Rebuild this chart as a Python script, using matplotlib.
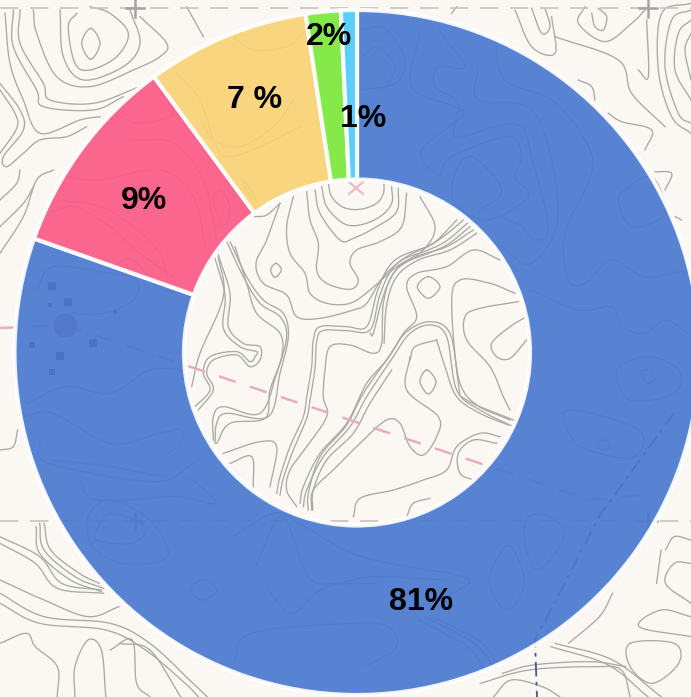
#!/usr/bin/env python3
import numpy as np
import matplotlib
matplotlib.use("Agg")
import matplotlib.pyplot as plt

W, H = 691, 697

shares = [80.4, 9.5, 7.7, 1.65, 0.75]
labels = ["81%", "9%", "7 %", "2%", "1%"]
colors = ["#4A78D0", "#FC5A87", "#F8D274", "#7BE93A", "#4DCBFC"]
label_pos = [(421, 602), (144, 201), (255, 100), (329, 37), (363, 119)]

hole = [
    [(445,40),(455,80),(490,112),(540,118),(590,100),(610,70),(612,40)],
    [(425,50),(440,110),(490,160),(540,165),(600,140),(635,100),(635,50)],
    [(405,60),(420,130),(480,210),(520,205),(590,170),(650,125),(655,55)],
    [(380,65),(390,150),(415,220),(410,300),(440,340),(510,358),(535,330),(510,280),(530,240),(600,215),(665,170),(680,70)],
    [(340,80),(320,170),(330,250),(375,310),(390,370),(440,400),(510,400),(570,360),(650,290),(730,240),(765,170),(720,80)],
    [(300,100),(260,210),(228,280),(250,340),(320,375),(350,440),(420,445),(520,420),(560,400),(610,320),(680,260),(760,220),(830,150)],
    [(850,150),(790,200),(740,230),(660,260),(620,300),(590,370),(560,470),(500,470),(420,470),(400,510),(395,590),(380,680),(370,740),(330,830),(300,920),(290,970)],
    [(862,160),(800,212),(745,240),(665,270),(628,310),(598,380),(570,480),(500,482),(428,482),(410,515),(405,595),(390,690),(380,745),(340,840),(310,925),(300,975)],
    [(870,170),(805,222),(750,248),(670,280),(635,320),(606,390),(580,490),(570,490)],
    [(880,180),(800,230),(710,260),(640,310),(610,400),(605,520),(580,550),(510,525),(450,530),(435,600),(430,680),(440,740),(380,830),(330,900),(320,960),(350,1010)],
    [(890,190),(810,240),(715,270),(650,320),(620,405),(612,520)],
    [(960,270),(880,240),(800,290),(710,310),(680,350),(710,440),(670,490),(620,570),(560,640),(500,760),(420,850),(370,950),(360,1000)],
    [(1000,770),(900,720),(830,660),(800,500),(750,465),(690,490),(640,560),(560,680),(510,770),(430,860),(380,960),(370,1010)],
    [(990,750),(890,705),(840,640),(810,490),(750,455),(680,485),(630,555),(550,670),(500,765),(420,860),(385,970),(385,1020)],
    [(635,600),(570,700),(520,790),(440,870),(400,960),(398,1020)],
    [(690,560),(680,660),(775,740),(770,800),(730,855),(690,830),(660,760),(620,750),(550,810),(470,890),(400,960),(395,1020)],
    [(770,510),(705,530),(690,570)],
    [(770,510),(795,590),(830,680),(900,730),(985,765)],
    [(1005,370),(930,340),(840,330),(815,400),(835,640),(860,690),(1000,750)],
    [(1015,395),(900,415),(855,440),(860,510),(930,590),(970,680),(990,720)],
    [(1040,440),(990,470),(935,520),(950,560),(990,565),(1040,510)],
    [(745,320),(780,350),(745,385),(712,350),(745,320)],
    [(740,600),(768,635),(745,672),(720,635),(740,600)],
    [(288,280),(304,300),(285,322),(272,300),(288,280)],
    [(140,215),(190,320),(240,400),(300,440),(320,500),(290,610),(240,730),(130,710),(100,740),(100,810)],
    [(150,215),(200,320),(250,390),(310,430),(325,500),(300,610),(265,740),(140,730),(110,760),(105,820)],
    [(165,230),(200,340),(230,430),(300,490),(305,560),(270,660),(255,745),(150,760),(110,820)],
    [(115,255),(150,370),(145,470),(190,520),(240,530),(240,570),(210,590),(170,555),(100,570),(80,610),(100,660),(55,720)],
    [(105,265),(135,375),(130,475),(180,530),(230,545),(225,560),(210,575),(170,545),(90,560),(70,610),(90,660),(45,710)],
    [(115,260),(130,380),(60,550),(35,650)],
    [(130,850),(240,815),(290,830),(270,950)],
    [(150,880),(215,860),(220,950)],
    [(960,800),(900,790),(830,830),(800,900),(730,930),(640,960),(540,985),(520,1040)],
    [(950,820),(880,810),(835,850),(840,910),(880,930)],
    [(750,985),(700,1000),(680,1040)],
    [(225,140),(260,135),(300,100)],
]
upper_left = [
    [(272,85),(300,130),(272,178),(245,130),(272,85)],
    [(230,40),(205,80),(225,190),(270,210),(350,170),(385,100),(330,40),(270,20)],
    [(180,30),(190,170),(250,240),(370,200),(420,130),(390,30)],
    [(100,30),(110,100),(170,230),(270,260),(400,210),(480,170),(500,130),(420,50)],
    [(60,30),(60,130),(130,250),(150,300),(280,310),(420,260)],
    [(40,30),(40,140),(110,270),(130,320),(280,330),(370,290)],
    [(15,40),(30,190),(70,300),(120,400),(240,360),(300,350)],
    [(0,250),(60,330),(70,390),(10,470),(20,500),(70,460),(120,420),(200,410),(260,380)],
    [(0,270),(45,340),(50,385),(0,460)],
    [(160,510),(110,540),(70,650),(0,760)],
    [(0,680),(70,610),(100,560)],
    [(0,600),(50,550),(60,510)],
    [(560,20),(610,110)],
    [(200,530),(300,540),(480,510),(580,590),(620,760)],
    [(400,420),(520,430),(610,540),(650,720)],
    [(130,650),(220,620),(330,680),(420,760),(520,830)],
    [(180,600),(300,620),(400,680),(480,760),(500,830)],
    [(660,570),(690,620),(670,680),(640,600),(660,570)],
    [(340,340),(420,370),(520,340),(480,270)],
    [(110,870),(160,800),(330,820),(410,840),(400,900),(310,940),(210,940)],
    [(330,800),(400,780),(470,860),(540,880)],
    [(610,370),(640,420),(720,440),(820,380),(880,300)],
    [(530,220),(600,300),(640,420),(680,470),(780,440),(900,380)],
    [(730,540),(770,600),(745,580),(730,540)],
    [(700,110),(760,150),(860,140),(910,100)],
]
upper_right = [
    [(50,90),(120,85),(180,180),(150,250),(50,270)],
    [(50,170),(100,140),(150,200),(130,250)],
    [(225,100),(200,260),(330,320),(350,350),(230,450),(280,525),(320,470),(490,410),(530,470),(510,530),(550,590),(430,660),(330,610),(330,520),(380,470),(470,570),(400,635)],
    [(280,90),(360,200),(280,200),(270,260),(340,310),(330,410),(450,380),(530,380),(560,470),(610,680),(570,720),(530,680),(470,650)],
    [(400,200),(400,300),(570,340),(640,640),(560,790),(470,740)],
    [(450,120),(480,240),(620,300),(720,420),(740,520),(660,700),(670,840),(720,850),(800,780),(900,830),(1030,810)],
    [(840,570),(920,530),(960,640),(860,680),(820,600),(840,570)],
    [(560,870),(700,930),(800,920),(830,980),(900,1000),(960,960),(1030,1000)],
    [(320,40),(335,20)],
    [(510,30),(560,140),(630,160),(620,50)],
    [(720,20),(700,70),(780,125),(860,70),(900,30)],
    [(740,40),(750,80),(775,90),(785,50),(760,25)],
    [(560,25),(590,100),(615,80),(600,25)],
    [(630,110),(820,180),(860,280),(960,380)],
    [(790,340),(830,365),(920,390),(900,450)],
    [(930,515),(980,520),(960,570)],
    [(880,210),(910,230),(905,60)],
    [(1038,30),(980,60),(960,200),(1000,340),(1038,370)],
    [(1038,60),(1000,100),(990,210),(1038,300)],
    [(1038,100),(1020,150),(1038,240)],
    [(1038,10),(950,40),(940,210),(980,350),(1038,400)],
    [(1010,660),(990,650)],
    [(700,240),(740,260),(750,300)],
]
lower = [
    [(1400,60),(1470,20),(1540,60),(1530,130),(1430,150),(1400,60)],
    [(1455,65),(1475,60),(1485,85),(1470,100),(1455,65)],
    [(1290,180),(1450,240),(1440,320),(1360,310),(1300,270),(1290,180)],
    [(1370,270),(1385,285),(1370,300),(1355,285),(1370,270)],
    [(60,160),(150,110),(250,130),(340,60),(420,60)],
    [(50,200),(120,190),(250,280),(360,250),(410,240),(410,280),(380,310)],
    [(90,280),(110,340),(350,395),(440,340)],
    [(120,330),(250,350),(370,380)],
    [(180,390),(220,450),(400,440),(490,460),(430,380)],
    [(200,500),(250,450),(340,510),(380,620),(280,640),(210,590),(200,500)],
    [(220,540),(250,490),(330,530),(300,580),(220,570),(220,540)],
    [(530,560),(620,490),(680,520),(820,620),(1050,680),(1040,720),(950,770)],
    [(580,650),(640,500),(700,680),(760,700),(850,680),(1010,690)],
    [(600,700),(660,790),(740,710),(860,700)],
    [(460,690),(492,720),(460,750),(432,720),(460,690)],
    [(530,940),(570,850),(800,820),(880,830),(900,890),(830,950)],
    [(950,810),(1060,890),(1100,960)],
    [(965,800),(1075,880),(1120,950)],
    [(980,800),(1085,870),(1130,940)],
    [(1130,620),(1160,590),(1190,700),(1150,780),(1110,700),(1130,620)],
    [(1200,500),(1250,500),(1280,560),(1220,660),(1190,570),(1200,500)],
    [(0,560),(90,620),(140,700),(230,720)],
    [(0,580),(80,640),(130,715),(235,730)],
    [(90,520),(100,600),(170,680),(235,715)],
    [(100,520),(115,600),(180,670),(225,700)],
    [(82,530),(90,610),(160,690),(230,725)],
    [(0,690),(100,750),(200,800),(270,770)],
    [(0,730),(100,800),(250,820),(340,880),(430,990),(470,1040)],
    [(0,760),(90,820),(240,840),(330,900),(420,1000),(450,1040)],
    [(0,880),(60,850),(80,890),(130,950),(130,1040)],
    [(170,1040),(170,950),(200,870),(230,900),(240,1040)],
    [(250,900),(300,870),(310,1000),(340,1040)],
    [(270,880),(340,900),(410,1040)],
    [(0,300),(30,290),(40,240)],
    [(1090,1000),(1200,960),(1350,950),(1410,960),(1430,1040)],
    [(1120,1040),(1160,990),(1230,1010),(1270,1040)],
    [(1140,970),(1210,945),(1340,935),(1420,950)],
    [(1260,880),(1390,930),(1500,1040)],
    [(1250,890),(1380,945),(1470,1040)],
    [(1390,730),(1360,800),(1290,880)],
    [(1430,880),(1530,880),(1540,940),(1480,1000),(1430,950),(1430,880)],
    [(1510,600),(1530,560),(1568,570)],
    [(1490,700),(1500,600)],
    [(1568,640),(1530,640),(1510,700),(1568,760)],
    [(1568,800),(1500,780),(1450,830),(1568,860)],
]
contour_groups = [
    (hole, 180, 170, 1 / 3, 1 / 3),
    (upper_left, 0, 0, 1 / 3, 1 / 3),
    (upper_right, 345, 0, 1 / 3, 1 / 3),
    (lower, 0, 350, 691 / 1568, 1 / 3),
]
grid_y = [8, 521]
crosses = [(135, 8), (648, 8), (135, 521), (648, 521)]
route = [[(0, 328), (65, 325)], [(65, 325), (590, 500), (650, 494)]]
trail = [[(674, 413), (600, 515), (535, 640), (537, 697)]]
dots = [(52, 286, 4), (68, 302, 4), (50, 305, 2), (93, 343, 4), (32, 345, 3), (60, 356, 4), (52, 372, 3), (115, 312, 2)]


def smooth(pts, n=12):
    # catmull-rom through the traced points
    p = np.array(pts, dtype=float)
    if len(p) < 3:
        return p
    closed = np.allclose(p[0], p[-1])
    if closed:
        q = np.vstack([p[-2], p, p[1]])
    else:
        q = np.vstack([2 * p[0] - p[1], p, 2 * p[-1] - p[-2]])
    t = np.linspace(0, 1, n, endpoint=False)[:, None]
    out = []
    for i in range(1, len(q) - 2):
        a, b, c, d = q[i - 1], q[i], q[i + 1], q[i + 2]
        out.append(0.5 * (2 * b + (c - a) * t + (2 * a - 5 * b + 4 * c - d) * t ** 2 + (3 * b - a - 3 * c + d) * t ** 3))
    out.append(p[-1:])
    return np.vstack(out)


fig = plt.figure(figsize=(W / 100, H / 100), dpi=100, facecolor="#FBF8F3")
ax = fig.add_axes([0, 0, 1, 1])

# everything below the donut
for group, ox, oy, sx, sy in contour_groups:
    for line in group:
        xy = smooth([(ox + x * sx, oy + y * sy) for x, y in line])
        ax.plot(xy[:, 0], H - xy[:, 1], color="#A9A9A5", lw=0.95, zorder=1)

for y in grid_y:
    ax.plot([0, W], [H - y, H - y], color="#C4C4C0", lw=1.2, dashes=(11, 7), zorder=1)
for x, y in crosses:
    ax.plot([x - 9, x + 9], [H - y, H - y], color="#A3A3A8", lw=1.8, zorder=1)
    ax.plot([x, x], [H - y - 9, H - y + 9], color="#A3A3A8", lw=1.8, zorder=1)

for line in route:
    xs, ys = zip(*line)
    ax.plot(xs, [H - y for y in ys], color="#E8AEBB", lw=1.8, dashes=(7, 6), zorder=1)
ax.plot([349, 363], [H - 182, H - 194], color="#EDB6C2", lw=1.5, zorder=1)
ax.plot([349, 363], [H - 194, H - 182], color="#EDB6C2", lw=1.5, zorder=1)
for line in trail:
    xs, ys = zip(*line)
    ax.plot(xs, [H - y for y in ys], color="#4E5878", lw=1.3, dashes=(8, 3, 2, 3), zorder=1)
ax.scatter([65], [H - 325], s=300, color="#8A5FA0", alpha=0.8, linewidths=0, zorder=1)
for x, y, r in dots:
    ax.scatter([x], [H - y], s=(r * 1.4) ** 2, marker="s", color="#2E3F80", linewidths=0, zorder=1)

wedges, _ = ax.pie(
    shares,
    colors=colors,
    startangle=90,
    counterclock=False,
    center=(357, H - 352.5),
    radius=342.5,
    wedgeprops={"width": 169.5, "edgecolor": "white", "linewidth": 3, "zorder": 3, "alpha": 0.92},
    frame=True,
)
for t, (x, y) in zip(labels, label_pos):
    ax.text(x, H - y, t, ha="center", va="center", fontsize=23, fontweight="bold",
            family="Liberation Sans", color="black", zorder=5)

ax.set_xlim(0, W)
ax.set_ylim(0, H)
ax.set_aspect("auto")
ax.axis("off")
fig.savefig("out.png", dpi=100, facecolor=fig.get_facecolor())
plt.close(fig)
